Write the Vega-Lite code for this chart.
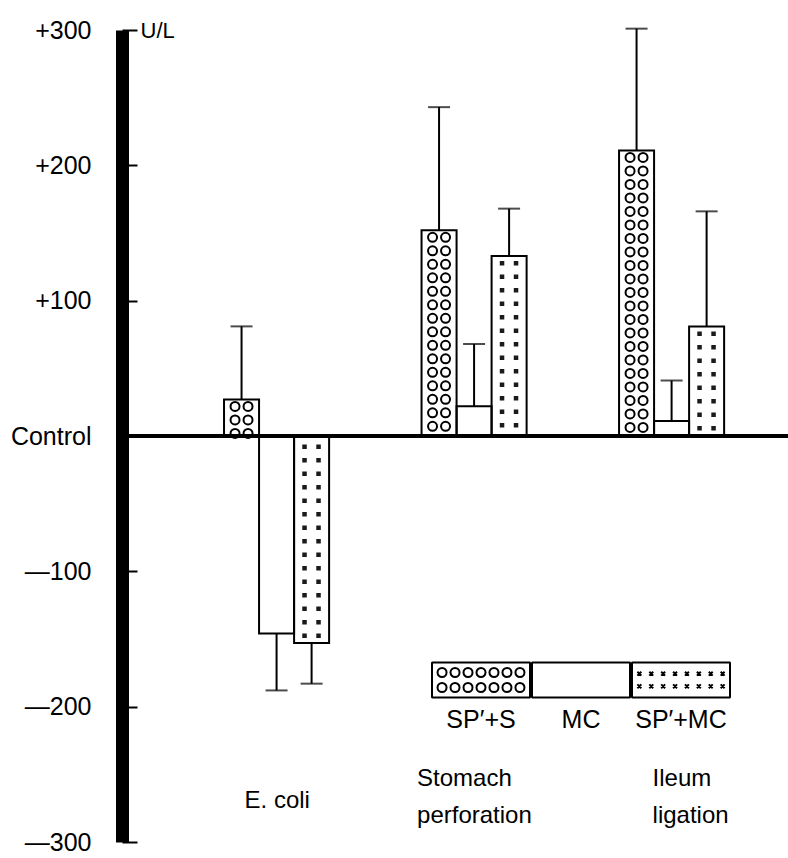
{
  "$schema": "https://vega.github.io/schema/vega-lite/v6.json",
  "width": 666,
  "height": 812,
  "autosize": {"type": "none"},
  "padding": {"left": 122, "top": 30, "right": 0, "bottom": 16},
  "background": "white",
  "config": {"view": {"stroke": null}, "font": "Liberation Sans", "axis": {"grid": false}},
  "data": {"values": [
    {"group": "E. coli", "series": "SP′+S", "value": 27, "err": 81},
    {"group": "E. coli", "series": "MC", "value": -146, "err": -188},
    {"group": "E. coli", "series": "SP′+MC", "value": -153, "err": -183},
    {"group": "Stomach perforation", "series": "SP′+S", "value": 152, "err": 243},
    {"group": "Stomach perforation", "series": "MC", "value": 22, "err": 68},
    {"group": "Stomach perforation", "series": "SP′+MC", "value": 133, "err": 168},
    {"group": "Ileum ligation", "series": "SP′+S", "value": 211, "err": 301},
    {"group": "Ileum ligation", "series": "MC", "value": 11, "err": 41},
    {"group": "Ileum ligation", "series": "SP′+MC", "value": 81, "err": 166}
  ]},
  "resolve": {"scale": {"xOffset": "independent"}},
  "layer": [
    {
      "mark": {"type": "bar", "stroke": null},
      "encoding": {
        "x": {"field": "group", "type": "nominal", "sort": null,
          "scale": {"domain": ["E. coli", "Stomach perforation", "Ileum ligation"], "paddingInner": 0.468, "paddingOuter": 0.42, "align": 0.615},
          "axis": {"title": null, "domain": false, "ticks": false, "labelAngle": 0, "labelFontSize": 24, "labelColor": "black", "labelLineHeight": 37, "labelBaseline": "middle", "labelAlign": "left",
            "labelPadding": {"condition": {"test": "datum.value === 'E. coli'", "value": -42}, "value": -64},
            "labelOffset": {"condition": [{"test": "datum.value === 'E. coli'", "value": -32}, {"test": "datum.value === 'Stomach perforation'", "value": -57}], "value": -19},
            "labelExpr": "datum.value === 'Stomach perforation' ? ['Stomach', 'perforation'] : datum.value === 'Ileum ligation' ? ['Ileum', 'ligation'] : datum.value"}},
        "xOffset": {"field": "series", "type": "nominal", "scale": {"domain": ["SP′+S", "MC", "SP′+MC"], "paddingInner": 0, "paddingOuter": 0}},
        "y": {"field": "value", "type": "quantitative", "scale": {"domain": [-300, 300], "nice": false, "zero": false},
          "axis": {"values": [-300, -200, -100, 0, 100, 200, 300],
            "labelExpr": "datum.value === 0 ? 'Control' : (datum.value > 0 ? '+' : '—') + abs(datum.value)",
            "domainColor": "black", "domainWidth": 13, "tickColor": "black", "tickWidth": 2, "tickSize": -15, "labelPadding": 46,
            "labelFontSize": 25, "labelColor": "black", "labelFlush": false, "labelOverlap": false,
            "title": "U/L", "titleAngle": 0, "titleX": 18, "titleY": 0, "titleAlign": "left", "titleBaseline": "middle", "titleFontSize": 22, "titleFontWeight": "normal", "titleColor": "black"}},
        "color": {"field": "series", "type": "nominal",
          "scale": {"domain": ["SP′+S", "MC", "SP′+MC"], "range": ["#ffffff", "#ffffff", "#ffffff"]},
          "legend": {"title": null, "orient": "none", "legendX": 309, "legendY": 600, "direction": "horizontal", "columns": 3, "columnPadding": -2, "padding": 0,
            "symbolSize": 9604, "symbolStrokeColor": "black", "symbolStrokeWidth": 2, "symbolFillColor": "white", "symbolOffset": 0,
            "labelOffset": -50, "labelAlign": "center", "labelFontSize": 25, "labelColor": "black",
            "encode": {
              "symbols": {"update": {
                "shape": [
                  {"test": "datum.index === 0", "value": "M-1,-0.357H1V0.357H-1ZM-0.887,-0.153a0.092,0.092 0 1,0 0.184,0a0.092,0.092 0 1,0 -0.184,0M-0.622,-0.153a0.092,0.092 0 1,0 0.184,0a0.092,0.092 0 1,0 -0.184,0M-0.357,-0.153a0.092,0.092 0 1,0 0.184,0a0.092,0.092 0 1,0 -0.184,0M-0.092,-0.153a0.092,0.092 0 1,0 0.184,0a0.092,0.092 0 1,0 -0.184,0M0.173,-0.153a0.092,0.092 0 1,0 0.184,0a0.092,0.092 0 1,0 -0.184,0M0.438,-0.153a0.092,0.092 0 1,0 0.184,0a0.092,0.092 0 1,0 -0.184,0M0.703,-0.153a0.092,0.092 0 1,0 0.184,0a0.092,0.092 0 1,0 -0.184,0M-0.887,0.153a0.092,0.092 0 1,0 0.184,0a0.092,0.092 0 1,0 -0.184,0M-0.622,0.153a0.092,0.092 0 1,0 0.184,0a0.092,0.092 0 1,0 -0.184,0M-0.357,0.153a0.092,0.092 0 1,0 0.184,0a0.092,0.092 0 1,0 -0.184,0M-0.092,0.153a0.092,0.092 0 1,0 0.184,0a0.092,0.092 0 1,0 -0.184,0M0.173,0.153a0.092,0.092 0 1,0 0.184,0a0.092,0.092 0 1,0 -0.184,0M0.438,0.153a0.092,0.092 0 1,0 0.184,0a0.092,0.092 0 1,0 -0.184,0M0.703,0.153a0.092,0.092 0 1,0 0.184,0a0.092,0.092 0 1,0 -0.184,0"},
                  {"test": "datum.index === 2", "value": "M-1,-0.357H1V0.357H-1ZM-0.89,-0.17l0.08,0.08m0,-0.08l-0.08,0.08M-0.647,-0.17l0.08,0.08m0,-0.08l-0.08,0.08M-0.404,-0.17l0.08,0.08m0,-0.08l-0.08,0.08M-0.161,-0.17l0.08,0.08m0,-0.08l-0.08,0.08M0.081,-0.17l0.08,0.08m0,-0.08l-0.08,0.08M0.324,-0.17l0.08,0.08m0,-0.08l-0.08,0.08M0.567,-0.17l0.08,0.08m0,-0.08l-0.08,0.08M0.81,-0.17l0.08,0.08m0,-0.08l-0.08,0.08M-0.89,0.09l0.08,0.08m0,-0.08l-0.08,0.08M-0.647,0.09l0.08,0.08m0,-0.08l-0.08,0.08M-0.404,0.09l0.08,0.08m0,-0.08l-0.08,0.08M-0.161,0.09l0.08,0.08m0,-0.08l-0.08,0.08M0.081,0.09l0.08,0.08m0,-0.08l-0.08,0.08M0.324,0.09l0.08,0.08m0,-0.08l-0.08,0.08M0.567,0.09l0.08,0.08m0,-0.08l-0.08,0.08M0.81,0.09l0.08,0.08m0,-0.08l-0.08,0.08"},
                  {"value": "M-1,-0.357H1V0.357H-1Z"}
                ],
                "stroke": {"value": "black"},
                "strokeWidth": {"value": 2},
                "strokeJoin": {"value": "bevel"},
                "fill": {"value": "white"}
              }},
              "labels": {"update": {"dy": {"value": 40}}}
            }}}
      }
    },
    {
      "transform": [{"filter": {"field": "series", "equal": "SP′+S"}}],
      "mark": {"type": "rule", "stroke": "black", "strokeWidth": 11, "strokeCap": "round", "strokeDash": [0, 13.5], "strokeDashOffset": 6.5},
      "encoding": {
        "x": {"field": "group", "type": "nominal", "sort": null,
          "scale": {"domain": ["E. coli", "Stomach perforation", "Ileum ligation"], "paddingInner": 0.468, "paddingOuter": 0.42, "align": 0.615},
          "axis": {"title": null, "domain": false, "ticks": false, "labelAngle": 0, "labelFontSize": 24, "labelColor": "black", "labelLineHeight": 37, "labelBaseline": "middle", "labelAlign": "left",
            "labelPadding": {"condition": {"test": "datum.value === 'E. coli'", "value": -42}, "value": -64},
            "labelOffset": {"condition": [{"test": "datum.value === 'E. coli'", "value": -32}, {"test": "datum.value === 'Stomach perforation'", "value": -57}], "value": -19},
            "labelExpr": "datum.value === 'Stomach perforation' ? ['Stomach', 'perforation'] : datum.value === 'Ileum ligation' ? ['Ileum', 'ligation'] : datum.value"}},
        "xOffset": {"field": "series", "type": "nominal", "scale": {"domain": ["SP′+S", "MC", "SP′+MC"], "range": [-6.5, 98.5], "paddingInner": 0, "paddingOuter": 0}},
        "y": {"field": "value", "type": "quantitative", "scale": {"domain": [-300, 300], "nice": false, "zero": false},
          "axis": {"values": [-300, -200, -100, 0, 100, 200, 300],
            "labelExpr": "datum.value === 0 ? 'Control' : (datum.value > 0 ? '+' : '—') + abs(datum.value)",
            "domainColor": "black", "domainWidth": 13, "tickColor": "black", "tickWidth": 2, "tickSize": -15, "labelPadding": 46,
            "labelFontSize": 25, "labelColor": "black", "labelFlush": false, "labelOverlap": false,
            "title": "U/L", "titleAngle": 0, "titleX": 18, "titleY": 0, "titleAlign": "left", "titleBaseline": "middle", "titleFontSize": 22, "titleFontWeight": "normal", "titleColor": "black"}},
        "y2": {"datum": 0}
      }
    },
    {
      "transform": [{"filter": {"field": "series", "equal": "SP′+S"}}],
      "mark": {"type": "rule", "stroke": "white", "strokeWidth": 7, "strokeCap": "round", "strokeDash": [0, 13.5], "strokeDashOffset": 6.5},
      "encoding": {
        "x": {"field": "group", "type": "nominal", "sort": null,
          "scale": {"domain": ["E. coli", "Stomach perforation", "Ileum ligation"], "paddingInner": 0.468, "paddingOuter": 0.42, "align": 0.615},
          "axis": {"title": null, "domain": false, "ticks": false, "labelAngle": 0, "labelFontSize": 24, "labelColor": "black", "labelLineHeight": 37, "labelBaseline": "middle", "labelAlign": "left",
            "labelPadding": {"condition": {"test": "datum.value === 'E. coli'", "value": -42}, "value": -64},
            "labelOffset": {"condition": [{"test": "datum.value === 'E. coli'", "value": -32}, {"test": "datum.value === 'Stomach perforation'", "value": -57}], "value": -19},
            "labelExpr": "datum.value === 'Stomach perforation' ? ['Stomach', 'perforation'] : datum.value === 'Ileum ligation' ? ['Ileum', 'ligation'] : datum.value"}},
        "xOffset": {"field": "series", "type": "nominal", "scale": {"domain": ["SP′+S", "MC", "SP′+MC"], "range": [-6.5, 98.5], "paddingInner": 0, "paddingOuter": 0}},
        "y": {"field": "value", "type": "quantitative", "scale": {"domain": [-300, 300], "nice": false, "zero": false},
          "axis": {"values": [-300, -200, -100, 0, 100, 200, 300],
            "labelExpr": "datum.value === 0 ? 'Control' : (datum.value > 0 ? '+' : '—') + abs(datum.value)",
            "domainColor": "black", "domainWidth": 13, "tickColor": "black", "tickWidth": 2, "tickSize": -15, "labelPadding": 46,
            "labelFontSize": 25, "labelColor": "black", "labelFlush": false, "labelOverlap": false,
            "title": "U/L", "titleAngle": 0, "titleX": 18, "titleY": 0, "titleAlign": "left", "titleBaseline": "middle", "titleFontSize": 22, "titleFontWeight": "normal", "titleColor": "black"}},
        "y2": {"datum": 0}
      }
    },
    {
      "transform": [{"filter": {"field": "series", "equal": "SP′+S"}}],
      "mark": {"type": "rule", "stroke": "black", "strokeWidth": 11, "strokeCap": "round", "strokeDash": [0, 13.5], "strokeDashOffset": 6.5},
      "encoding": {
        "x": {"field": "group", "type": "nominal", "sort": null,
          "scale": {"domain": ["E. coli", "Stomach perforation", "Ileum ligation"], "paddingInner": 0.468, "paddingOuter": 0.42, "align": 0.615},
          "axis": {"title": null, "domain": false, "ticks": false, "labelAngle": 0, "labelFontSize": 24, "labelColor": "black", "labelLineHeight": 37, "labelBaseline": "middle", "labelAlign": "left",
            "labelPadding": {"condition": {"test": "datum.value === 'E. coli'", "value": -42}, "value": -64},
            "labelOffset": {"condition": [{"test": "datum.value === 'E. coli'", "value": -32}, {"test": "datum.value === 'Stomach perforation'", "value": -57}], "value": -19},
            "labelExpr": "datum.value === 'Stomach perforation' ? ['Stomach', 'perforation'] : datum.value === 'Ileum ligation' ? ['Ileum', 'ligation'] : datum.value"}},
        "xOffset": {"field": "series", "type": "nominal", "scale": {"domain": ["SP′+S", "MC", "SP′+MC"], "range": [6.5, 111.5], "paddingInner": 0, "paddingOuter": 0}},
        "y": {"field": "value", "type": "quantitative", "scale": {"domain": [-300, 300], "nice": false, "zero": false},
          "axis": {"values": [-300, -200, -100, 0, 100, 200, 300],
            "labelExpr": "datum.value === 0 ? 'Control' : (datum.value > 0 ? '+' : '—') + abs(datum.value)",
            "domainColor": "black", "domainWidth": 13, "tickColor": "black", "tickWidth": 2, "tickSize": -15, "labelPadding": 46,
            "labelFontSize": 25, "labelColor": "black", "labelFlush": false, "labelOverlap": false,
            "title": "U/L", "titleAngle": 0, "titleX": 18, "titleY": 0, "titleAlign": "left", "titleBaseline": "middle", "titleFontSize": 22, "titleFontWeight": "normal", "titleColor": "black"}},
        "y2": {"datum": 0}
      }
    },
    {
      "transform": [{"filter": {"field": "series", "equal": "SP′+S"}}],
      "mark": {"type": "rule", "stroke": "white", "strokeWidth": 7, "strokeCap": "round", "strokeDash": [0, 13.5], "strokeDashOffset": 6.5},
      "encoding": {
        "x": {"field": "group", "type": "nominal", "sort": null,
          "scale": {"domain": ["E. coli", "Stomach perforation", "Ileum ligation"], "paddingInner": 0.468, "paddingOuter": 0.42, "align": 0.615},
          "axis": {"title": null, "domain": false, "ticks": false, "labelAngle": 0, "labelFontSize": 24, "labelColor": "black", "labelLineHeight": 37, "labelBaseline": "middle", "labelAlign": "left",
            "labelPadding": {"condition": {"test": "datum.value === 'E. coli'", "value": -42}, "value": -64},
            "labelOffset": {"condition": [{"test": "datum.value === 'E. coli'", "value": -32}, {"test": "datum.value === 'Stomach perforation'", "value": -57}], "value": -19},
            "labelExpr": "datum.value === 'Stomach perforation' ? ['Stomach', 'perforation'] : datum.value === 'Ileum ligation' ? ['Ileum', 'ligation'] : datum.value"}},
        "xOffset": {"field": "series", "type": "nominal", "scale": {"domain": ["SP′+S", "MC", "SP′+MC"], "range": [6.5, 111.5], "paddingInner": 0, "paddingOuter": 0}},
        "y": {"field": "value", "type": "quantitative", "scale": {"domain": [-300, 300], "nice": false, "zero": false},
          "axis": {"values": [-300, -200, -100, 0, 100, 200, 300],
            "labelExpr": "datum.value === 0 ? 'Control' : (datum.value > 0 ? '+' : '—') + abs(datum.value)",
            "domainColor": "black", "domainWidth": 13, "tickColor": "black", "tickWidth": 2, "tickSize": -15, "labelPadding": 46,
            "labelFontSize": 25, "labelColor": "black", "labelFlush": false, "labelOverlap": false,
            "title": "U/L", "titleAngle": 0, "titleX": 18, "titleY": 0, "titleAlign": "left", "titleBaseline": "middle", "titleFontSize": 22, "titleFontWeight": "normal", "titleColor": "black"}},
        "y2": {"datum": 0}
      }
    },
    {
      "transform": [{"filter": {"field": "series", "equal": "SP′+MC"}}],
      "mark": {"type": "rule", "stroke": "#1a1a1a", "strokeWidth": 4.5, "strokeDash": [4.5, 9], "strokeDashOffset": 8.5},
      "encoding": {
        "x": {"field": "group", "type": "nominal", "sort": null,
          "scale": {"domain": ["E. coli", "Stomach perforation", "Ileum ligation"], "paddingInner": 0.468, "paddingOuter": 0.42, "align": 0.615},
          "axis": {"title": null, "domain": false, "ticks": false, "labelAngle": 0, "labelFontSize": 24, "labelColor": "black", "labelLineHeight": 37, "labelBaseline": "middle", "labelAlign": "left",
            "labelPadding": {"condition": {"test": "datum.value === 'E. coli'", "value": -42}, "value": -64},
            "labelOffset": {"condition": [{"test": "datum.value === 'E. coli'", "value": -32}, {"test": "datum.value === 'Stomach perforation'", "value": -57}], "value": -19},
            "labelExpr": "datum.value === 'Stomach perforation' ? ['Stomach', 'perforation'] : datum.value === 'Ileum ligation' ? ['Ileum', 'ligation'] : datum.value"}},
        "xOffset": {"field": "series", "type": "nominal", "scale": {"domain": ["SP′+S", "MC", "SP′+MC"], "range": [-7, 98], "paddingInner": 0, "paddingOuter": 0}},
        "y": {"field": "value", "type": "quantitative", "scale": {"domain": [-300, 300], "nice": false, "zero": false},
          "axis": {"values": [-300, -200, -100, 0, 100, 200, 300],
            "labelExpr": "datum.value === 0 ? 'Control' : (datum.value > 0 ? '+' : '—') + abs(datum.value)",
            "domainColor": "black", "domainWidth": 13, "tickColor": "black", "tickWidth": 2, "tickSize": -15, "labelPadding": 46,
            "labelFontSize": 25, "labelColor": "black", "labelFlush": false, "labelOverlap": false,
            "title": "U/L", "titleAngle": 0, "titleX": 18, "titleY": 0, "titleAlign": "left", "titleBaseline": "middle", "titleFontSize": 22, "titleFontWeight": "normal", "titleColor": "black"}},
        "y2": {"datum": 0}
      }
    },
    {
      "transform": [{"filter": {"field": "series", "equal": "SP′+MC"}}],
      "mark": {"type": "rule", "stroke": "#1a1a1a", "strokeWidth": 4.5, "strokeDash": [4.5, 9], "strokeDashOffset": 8.5},
      "encoding": {
        "x": {"field": "group", "type": "nominal", "sort": null,
          "scale": {"domain": ["E. coli", "Stomach perforation", "Ileum ligation"], "paddingInner": 0.468, "paddingOuter": 0.42, "align": 0.615},
          "axis": {"title": null, "domain": false, "ticks": false, "labelAngle": 0, "labelFontSize": 24, "labelColor": "black", "labelLineHeight": 37, "labelBaseline": "middle", "labelAlign": "left",
            "labelPadding": {"condition": {"test": "datum.value === 'E. coli'", "value": -42}, "value": -64},
            "labelOffset": {"condition": [{"test": "datum.value === 'E. coli'", "value": -32}, {"test": "datum.value === 'Stomach perforation'", "value": -57}], "value": -19},
            "labelExpr": "datum.value === 'Stomach perforation' ? ['Stomach', 'perforation'] : datum.value === 'Ileum ligation' ? ['Ileum', 'ligation'] : datum.value"}},
        "xOffset": {"field": "series", "type": "nominal", "scale": {"domain": ["SP′+S", "MC", "SP′+MC"], "range": [7, 112], "paddingInner": 0, "paddingOuter": 0}},
        "y": {"field": "value", "type": "quantitative", "scale": {"domain": [-300, 300], "nice": false, "zero": false},
          "axis": {"values": [-300, -200, -100, 0, 100, 200, 300],
            "labelExpr": "datum.value === 0 ? 'Control' : (datum.value > 0 ? '+' : '—') + abs(datum.value)",
            "domainColor": "black", "domainWidth": 13, "tickColor": "black", "tickWidth": 2, "tickSize": -15, "labelPadding": 46,
            "labelFontSize": 25, "labelColor": "black", "labelFlush": false, "labelOverlap": false,
            "title": "U/L", "titleAngle": 0, "titleX": 18, "titleY": 0, "titleAlign": "left", "titleBaseline": "middle", "titleFontSize": 22, "titleFontWeight": "normal", "titleColor": "black"}},
        "y2": {"datum": 0}
      }
    },
    {
      "mark": {"type": "bar", "filled": false, "stroke": "black", "strokeWidth": 2},
      "encoding": {
        "x": {"field": "group", "type": "nominal", "sort": null,
          "scale": {"domain": ["E. coli", "Stomach perforation", "Ileum ligation"], "paddingInner": 0.468, "paddingOuter": 0.42, "align": 0.615},
          "axis": {"title": null, "domain": false, "ticks": false, "labelAngle": 0, "labelFontSize": 24, "labelColor": "black", "labelLineHeight": 37, "labelBaseline": "middle", "labelAlign": "left",
            "labelPadding": {"condition": {"test": "datum.value === 'E. coli'", "value": -42}, "value": -64},
            "labelOffset": {"condition": [{"test": "datum.value === 'E. coli'", "value": -32}, {"test": "datum.value === 'Stomach perforation'", "value": -57}], "value": -19},
            "labelExpr": "datum.value === 'Stomach perforation' ? ['Stomach', 'perforation'] : datum.value === 'Ileum ligation' ? ['Ileum', 'ligation'] : datum.value"}},
        "xOffset": {"field": "series", "type": "nominal", "scale": {"domain": ["SP′+S", "MC", "SP′+MC"], "paddingInner": 0, "paddingOuter": 0}},
        "y": {"field": "value", "type": "quantitative", "scale": {"domain": [-300, 300], "nice": false, "zero": false},
          "axis": {"values": [-300, -200, -100, 0, 100, 200, 300],
            "labelExpr": "datum.value === 0 ? 'Control' : (datum.value > 0 ? '+' : '—') + abs(datum.value)",
            "domainColor": "black", "domainWidth": 13, "tickColor": "black", "tickWidth": 2, "tickSize": -15, "labelPadding": 46,
            "labelFontSize": 25, "labelColor": "black", "labelFlush": false, "labelOverlap": false,
            "title": "U/L", "titleAngle": 0, "titleX": 18, "titleY": 0, "titleAlign": "left", "titleBaseline": "middle", "titleFontSize": 22, "titleFontWeight": "normal", "titleColor": "black"}}
      }
    },
    {
      "mark": {"type": "rule", "stroke": "black", "strokeWidth": 3},
      "encoding": {
        "y": {"datum": 0, "type": "quantitative", "scale": {"domain": [-300, 300], "nice": false, "zero": false},
          "axis": {"values": [-300, -200, -100, 0, 100, 200, 300],
            "labelExpr": "datum.value === 0 ? 'Control' : (datum.value > 0 ? '+' : '—') + abs(datum.value)",
            "domainColor": "black", "domainWidth": 13, "tickColor": "black", "tickWidth": 2, "tickSize": -15, "labelPadding": 46,
            "labelFontSize": 25, "labelColor": "black", "labelFlush": false, "labelOverlap": false,
            "title": "U/L", "titleAngle": 0, "titleX": 18, "titleY": 0, "titleAlign": "left", "titleBaseline": "middle", "titleFontSize": 22, "titleFontWeight": "normal", "titleColor": "black"}}
      }
    },
    {
      "mark": {"type": "rule", "stroke": "black", "strokeWidth": 2},
      "encoding": {
        "x": {"field": "group", "type": "nominal", "sort": null,
          "scale": {"domain": ["E. coli", "Stomach perforation", "Ileum ligation"], "paddingInner": 0.468, "paddingOuter": 0.42, "align": 0.615},
          "axis": {"title": null, "domain": false, "ticks": false, "labelAngle": 0, "labelFontSize": 24, "labelColor": "black", "labelLineHeight": 37, "labelBaseline": "middle", "labelAlign": "left",
            "labelPadding": {"condition": {"test": "datum.value === 'E. coli'", "value": -42}, "value": -64},
            "labelOffset": {"condition": [{"test": "datum.value === 'E. coli'", "value": -32}, {"test": "datum.value === 'Stomach perforation'", "value": -57}], "value": -19},
            "labelExpr": "datum.value === 'Stomach perforation' ? ['Stomach', 'perforation'] : datum.value === 'Ileum ligation' ? ['Ileum', 'ligation'] : datum.value"}},
        "xOffset": {"field": "series", "type": "nominal", "scale": {"domain": ["SP′+S", "MC", "SP′+MC"], "paddingInner": 0, "paddingOuter": 0}},
        "y": {"field": "value", "type": "quantitative", "scale": {"domain": [-300, 300], "nice": false, "zero": false},
          "axis": {"values": [-300, -200, -100, 0, 100, 200, 300],
            "labelExpr": "datum.value === 0 ? 'Control' : (datum.value > 0 ? '+' : '—') + abs(datum.value)",
            "domainColor": "black", "domainWidth": 13, "tickColor": "black", "tickWidth": 2, "tickSize": -15, "labelPadding": 46,
            "labelFontSize": 25, "labelColor": "black", "labelFlush": false, "labelOverlap": false,
            "title": "U/L", "titleAngle": 0, "titleX": 18, "titleY": 0, "titleAlign": "left", "titleBaseline": "middle", "titleFontSize": 22, "titleFontWeight": "normal", "titleColor": "black"}},
        "y2": {"field": "err"}
      }
    },
    {
      "mark": {"type": "tick", "color": "black", "thickness": 2, "size": 22, "orient": "horizontal"},
      "encoding": {
        "x": {"field": "group", "type": "nominal", "sort": null,
          "scale": {"domain": ["E. coli", "Stomach perforation", "Ileum ligation"], "paddingInner": 0.468, "paddingOuter": 0.42, "align": 0.615},
          "axis": {"title": null, "domain": false, "ticks": false, "labelAngle": 0, "labelFontSize": 24, "labelColor": "black", "labelLineHeight": 37, "labelBaseline": "middle", "labelAlign": "left",
            "labelPadding": {"condition": {"test": "datum.value === 'E. coli'", "value": -42}, "value": -64},
            "labelOffset": {"condition": [{"test": "datum.value === 'E. coli'", "value": -32}, {"test": "datum.value === 'Stomach perforation'", "value": -57}], "value": -19},
            "labelExpr": "datum.value === 'Stomach perforation' ? ['Stomach', 'perforation'] : datum.value === 'Ileum ligation' ? ['Ileum', 'ligation'] : datum.value"}},
        "xOffset": {"field": "series", "type": "nominal", "scale": {"domain": ["SP′+S", "MC", "SP′+MC"], "paddingInner": 0, "paddingOuter": 0}},
        "y": {"field": "err", "type": "quantitative", "scale": {"domain": [-300, 300], "nice": false, "zero": false},
          "axis": {"values": [-300, -200, -100, 0, 100, 200, 300],
            "labelExpr": "datum.value === 0 ? 'Control' : (datum.value > 0 ? '+' : '—') + abs(datum.value)",
            "domainColor": "black", "domainWidth": 13, "tickColor": "black", "tickWidth": 2, "tickSize": -15, "labelPadding": 46,
            "labelFontSize": 25, "labelColor": "black", "labelFlush": false, "labelOverlap": false,
            "title": "U/L", "titleAngle": 0, "titleX": 18, "titleY": 0, "titleAlign": "left", "titleBaseline": "middle", "titleFontSize": 22, "titleFontWeight": "normal", "titleColor": "black"}}
      }
    }
  ]
}
